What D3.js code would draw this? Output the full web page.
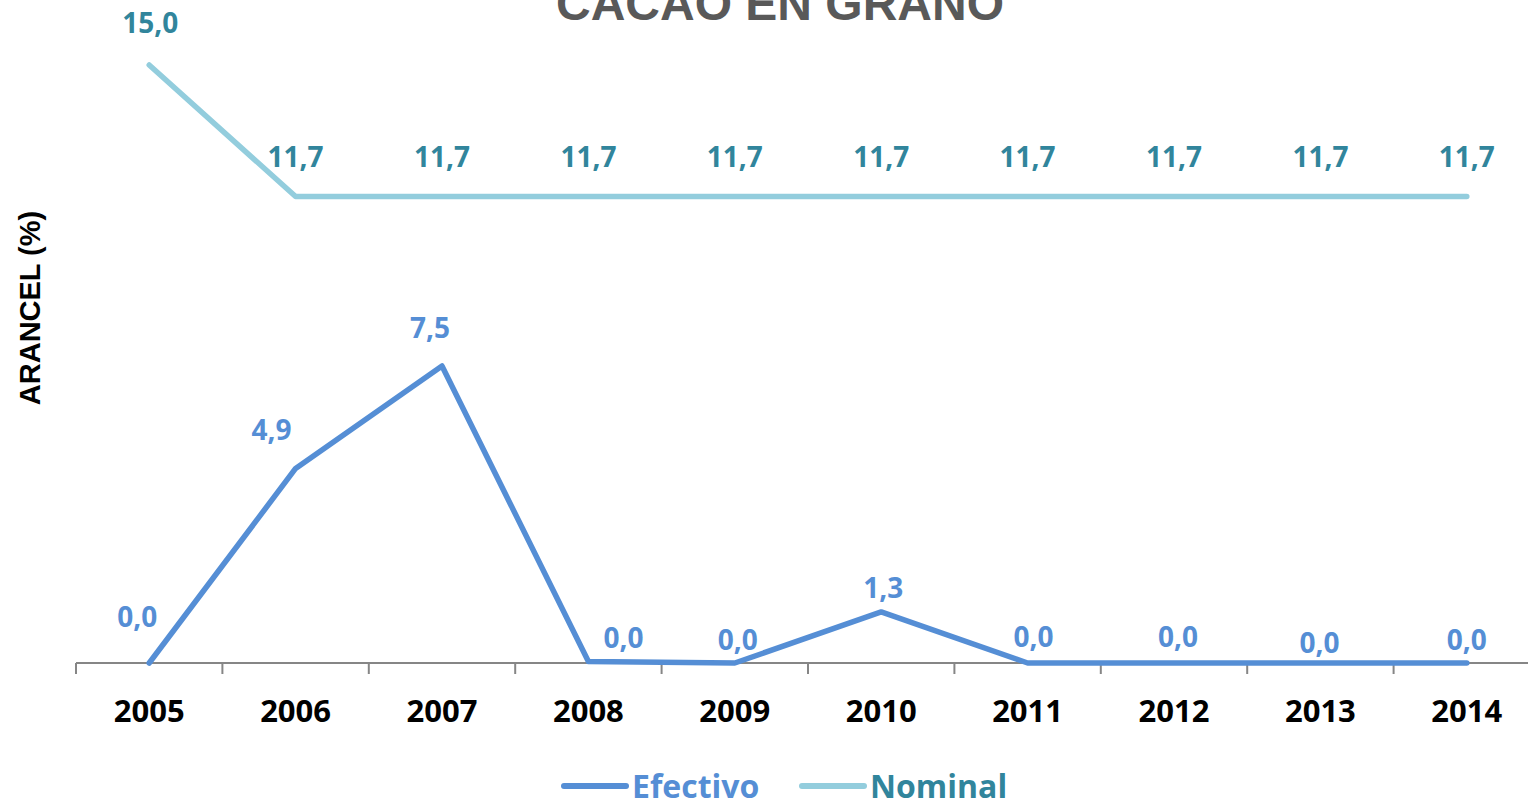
<!DOCTYPE html>
<html>
<head>
<meta charset="utf-8">
<script src="https://cdn.jsdelivr.net/npm/d3@7"></script>
<style>
  html, body { margin: 0; padding: 0; background: #fff; overflow: hidden; }
</style>
</head>
<body>
<div id="chart"></div>
<script>
const WIDTH = 1528;
const HEIGHT = 801;
const EFECTIVO_COLOR = "#558ED5";
const NOMINAL_COLOR = "#93CDDD";
const NOMINAL_LABEL = "#31859C";

// data
const years = ["2005", "2006", "2007", "2008", "2009", "2010", "2011", "2012", "2013", "2014"];
const efectivo = [0.0, 4.88, 7.45, 0.04, 0.0, 1.28, 0.0, 0.0, 0.0, 0.0];
const nominal = [15.0, 11.7, 11.7, 11.7, 11.7, 11.7, 11.7, 11.7, 11.7, 11.7];
const yDomain = [0, 15];

// hand nudges for the data labels (like excel's dragged labels)
const efectivoLabelOffset = [[-12, -36], [-24, -28], [-12, -28], [35, -13], [3, -13],
                             [2, -14], [6, -16], [4, -16], [-1, -10], [0, -13]];
const nominalLabelOffset = [[1, -32], [0, -30], [0, -30], [0, -30], [0, -30],
                            [0, -30], [0, -30], [0, -30], [0, -30], [0, -30]];

const fmt = v => d3.format(".1f")(v).replace(".", ",");

const svg = d3.select("#chart")
  .append("svg")
  .attr("width", WIDTH)
  .attr("height", HEIGHT);

const x = d3.scaleBand()
  .domain(years)
  .range([76, 1540]);

const y = d3.scaleLinear()
  .domain(yDomain)
  .range([663, 65]);

const px = d => x(d) + x.bandwidth() / 2;

// title (cut off at the top like the source)
svg.append("text")
  .attr("x", 780)
  .attr("y", 20)
  .attr("text-anchor", "middle")
  .attr("font-family", "Liberation Sans, Arial, sans-serif")
  .attr("font-weight", "bold")
  .attr("font-size", 48)
  .attr("fill", "#595959")
  .text("CACAO EN GRANO");

// y axis title
svg.append("text")
  .attr("transform", "translate(40,308) rotate(-90)")
  .attr("text-anchor", "middle")
  .attr("font-family", "Liberation Sans, Arial, sans-serif")
  .attr("font-weight", "bold")
  .attr("font-size", 29)
  .attr("fill", "#000")
  .text("ARANCEL (%)");

// x axis: ticks between categories
const xAxis = svg.append("g").attr("transform", `translate(0,${y(0)})`);
xAxis.append("line")
  .attr("x1", 76).attr("x2", WIDTH)
  .attr("stroke", "#868686").attr("stroke-width", 2);
xAxis.selectAll("line.tick")
  .data(years)
  .enter()
  .append("line")
  .attr("class", "tick")
  .attr("x1", d => x(d)).attr("x2", d => x(d))
  .attr("y1", 0).attr("y2", 11)
  .attr("stroke", "#868686").attr("stroke-width", 2);
xAxis.selectAll("text")
  .data(years)
  .enter()
  .append("text")
  .attr("x", d => px(d))
  .attr("y", 59)
  .attr("text-anchor", "middle")
  .attr("font-family", "Open Sans, sans-serif")
  .attr("font-weight", "bold")
  .attr("font-size", 31)
  .attr("fill", "#000")
  .text(d => d);

const line = d3.line()
  .x((d, i) => px(years[i]))
  .y(d => y(d));

function drawSeries(values, color, labelColor, offsets) {
  svg.append("path")
    .datum(values)
    .attr("d", line)
    .attr("fill", "none")
    .attr("stroke", color)
    .attr("stroke-width", 5.5)
    .attr("stroke-linejoin", "round")
    .attr("stroke-linecap", "round");

  svg.append("g")
    .selectAll("text")
    .data(values)
    .enter()
    .append("text")
    .attr("x", (d, i) => px(years[i]) + offsets[i][0])
    .attr("y", (d, i) => y(d) + offsets[i][1])
    .attr("text-anchor", "middle")
    .attr("font-family", "Open Sans, sans-serif")
    .attr("font-weight", "bold")
    .attr("font-size", 28)
    .attr("fill", labelColor)
    .text(d => fmt(d));
}

drawSeries(nominal, NOMINAL_COLOR, NOMINAL_LABEL, nominalLabelOffset);
drawSeries(efectivo, EFECTIVO_COLOR, EFECTIVO_COLOR, efectivoLabelOffset);

// legend
const legend = [
  { name: "Efectivo", color: EFECTIVO_COLOR, text: EFECTIVO_COLOR, x: 564 },
  { name: "Nominal", color: NOMINAL_COLOR, text: NOMINAL_LABEL, x: 802 }
];
const lg = svg.append("g");
lg.selectAll("line")
  .data(legend)
  .enter()
  .append("line")
  .attr("x1", d => d.x).attr("x2", d => d.x + 62)
  .attr("y1", 786).attr("y2", 786)
  .attr("stroke", d => d.color)
  .attr("stroke-width", 6)
  .attr("stroke-linecap", "round");
lg.selectAll("text")
  .data(legend)
  .enter()
  .append("text")
  .attr("x", d => d.x + 68)
  .attr("y", 798)
  .attr("font-family", "Open Sans, sans-serif")
  .attr("font-weight", "bold")
  .attr("font-size", 32)
  .attr("fill", d => d.text)
  .text(d => d.name);
</script>
</body>
</html>
